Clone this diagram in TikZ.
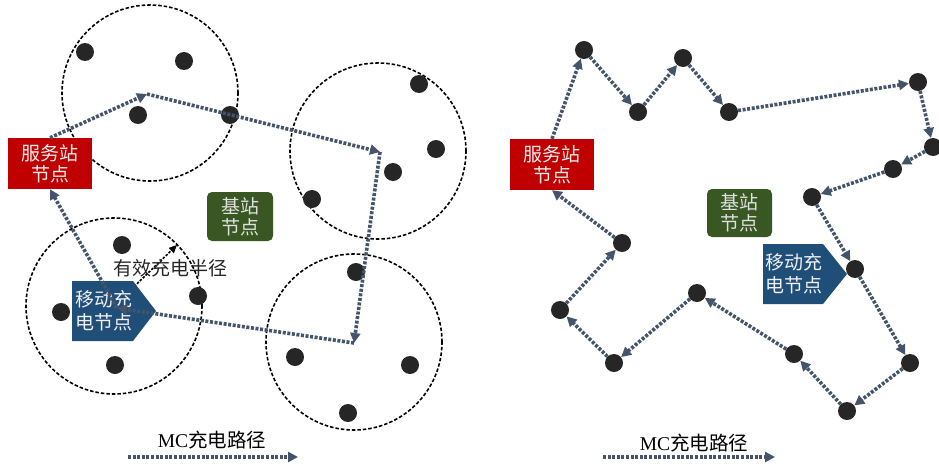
\documentclass[tikz,border=0pt]{standalone}
\usepackage{fontspec}
\setmainfont{Liberation Serif}
\newfontfamily\cjk{Noto Sans CJK SC}
\usetikzlibrary{arrows.meta}
\definecolor{redbox}{HTML}{C00000}
\definecolor{greenbox}{HTML}{385723}
\definecolor{bluebox}{HTML}{1F4E79}
\definecolor{pathcol}{HTML}{44546A}
\definecolor{dotcol}{HTML}{262626}
\begin{document}
\begin{tikzpicture}[x=1pt,y=-1pt,
  dot/.style={circle,fill=dotcol,minimum size=18pt,inner sep=0pt},
  zone/.style={draw=black,line width=1.6pt,dash pattern=on 3.5pt off 2pt},
  route/.style={draw=pathcol,line width=3.6pt,dash pattern=on 3pt off 1.6pt,-{Triangle[length=10pt,width=10pt]}},
  lbl/.style={font=\cjk\fontsize{19}{21}\selectfont,align=center,text=white!94!black,inner sep=0pt},
  legend/.style={font=\fontsize{19.5}{22}\selectfont,text=black,inner sep=0pt},
]
\useasboundingbox (0,0) rectangle (939,463);

% ---------------- left panel ----------------
\draw[zone] (150,93) circle[radius=88pt];
\draw[zone] (378,151) circle[radius=88pt];
\draw[zone] (114,306) circle[radius=88pt];
\draw[zone] (354,342) circle[radius=88pt];

\node[dot] (a1) at (85,52) {};
\node[dot] (a2) at (184,61) {};
\node[dot] (a3) at (138,115) {};
\node[dot] (a4) at (230,115) {};
\node[dot] (b1) at (419,84) {};
\node[dot] (b2) at (436,149) {};
\node[dot] (b3) at (393,172) {};
\node[dot] (b4) at (312,199) {};
\node[dot] (d1) at (122,245) {};
\node[dot] (d2) at (61,312) {};
\node[dot] (d3) at (198,296) {};
\node[dot] (d4) at (115,365) {};
\node[dot] (e1) at (356,272) {};
\node[dot] (e2) at (295,357) {};
\node[dot] (e3) at (410,365) {};
\node[dot] (e4) at (348,413) {};

% radius indicator
\coordinate (c3) at (114,306);
\coordinate (rim) at (177,245);
\draw[black,line width=1.6pt,dash pattern=on 2.5pt off 1.5pt,-{Triangle[length=8pt,width=7pt]}] (c3) -- (rim);
\node[font=\cjk\fontsize{19}{21}\selectfont,text=black!85,inner sep=0pt] (rlab) at (170,268) {有效充电半径};

\node[lbl,fill=redbox,minimum width=84pt,minimum height=51pt] (srvL) at (50,163.5) {服务站\\节点};
\node[lbl,fill=greenbox,rounded corners=5pt,minimum width=66pt,minimum height=49pt,text=white!88!black] (bsL) at (240,216.5) {基站\\节点};
\fill[bluebox] (72,281) -- (133,281) -- (156,311) -- (133,341) -- (72,341) -- cycle;
\node[lbl,font=\cjk\fontsize{19}{23}\selectfont] (mcL) at (104,311) {移动充\\电节点};

\coordinate (c1) at (147,94);
\coordinate (c2) at (380,152);
\coordinate (c4) at (354,343);
\coordinate (mp) at (117,308);
\draw[route] (srvL.north) -- (c1);
\draw[route] (c1) -- (c2);
\draw[route] (c2) -- (c4);
\draw[route] (c4) -- (mp);
\draw[route] (mp) -- (srvL.south);

\node[legend] (legL) at (212,440) {MC{\cjk 充电路径}};
\coordinate (la) at (128,457);
\coordinate (lb) at (298,457);
\draw[route] (la) -- (lb);

% ---------------- right panel ----------------
\node[lbl,fill=redbox,minimum width=84pt,minimum height=51pt] (srvR) at (552,164.5) {服务站\\节点};
\node[lbl,fill=greenbox,rounded corners=5pt,minimum width=65pt,minimum height=48pt,text=white!88!black] (bsR) at (739.5,213) {基站\\节点};
\fill[bluebox] (763,244) -- (823,244) -- (847,274) -- (823,304) -- (763,304) -- cycle;
\node[lbl,font=\cjk\fontsize{19}{23}\selectfont] (mcR) at (794,274) {移动充\\电节点};

\node[dot] (r1) at (584,50) {};
\node[dot] (r2) at (638,112) {};
\node[dot] (r3) at (683,58) {};
\node[dot] (r4) at (729,112) {};
\node[dot] (r5) at (918,82) {};
\node[dot] (r6) at (933,147) {};
\node[dot] (r7) at (893,169) {};
\node[dot] (r8) at (812,197) {};
\node[dot] (r9) at (855,269) {};
\node[dot] (r10) at (910,363) {};
\node[dot] (r11) at (847,411) {};
\node[dot] (r12) at (794,354) {};
\node[dot] (r13) at (697,293) {};
\node[dot] (r14) at (614,363) {};
\node[dot] (r15) at (560,310) {};
\node[dot] (r16) at (622,243) {};

\draw[route] (srvR.north) -- (r1);
\draw[route] (r1) -- (r2);
\draw[route] (r2) -- (r3);
\draw[route] (r3) -- (r4);
\draw[route] (r4) -- (r5);
\draw[route] (r5) -- (r6);
\draw[route] (r6) -- (r7);
\draw[route] (r7) -- (r8);
\draw[route] (r8) -- (r9);
\draw[route] (r9) -- (r10);
\draw[route] (r10) -- (r11);
\draw[route] (r11) -- (r12);
\draw[route] (r12) -- (r13);
\draw[route] (r13) -- (r14);
\draw[route] (r14) -- (r15);
\draw[route] (r15) -- (r16);
\draw[route] (r16) -- (srvR.south);

\node[legend] (legR) at (694,443) {MC{\cjk 充电路径}};
\coordinate (ra) at (603,457);
\coordinate (rb) at (775,457);
\draw[route] (ra) -- (rb);
\end{tikzpicture}
\end{document}
